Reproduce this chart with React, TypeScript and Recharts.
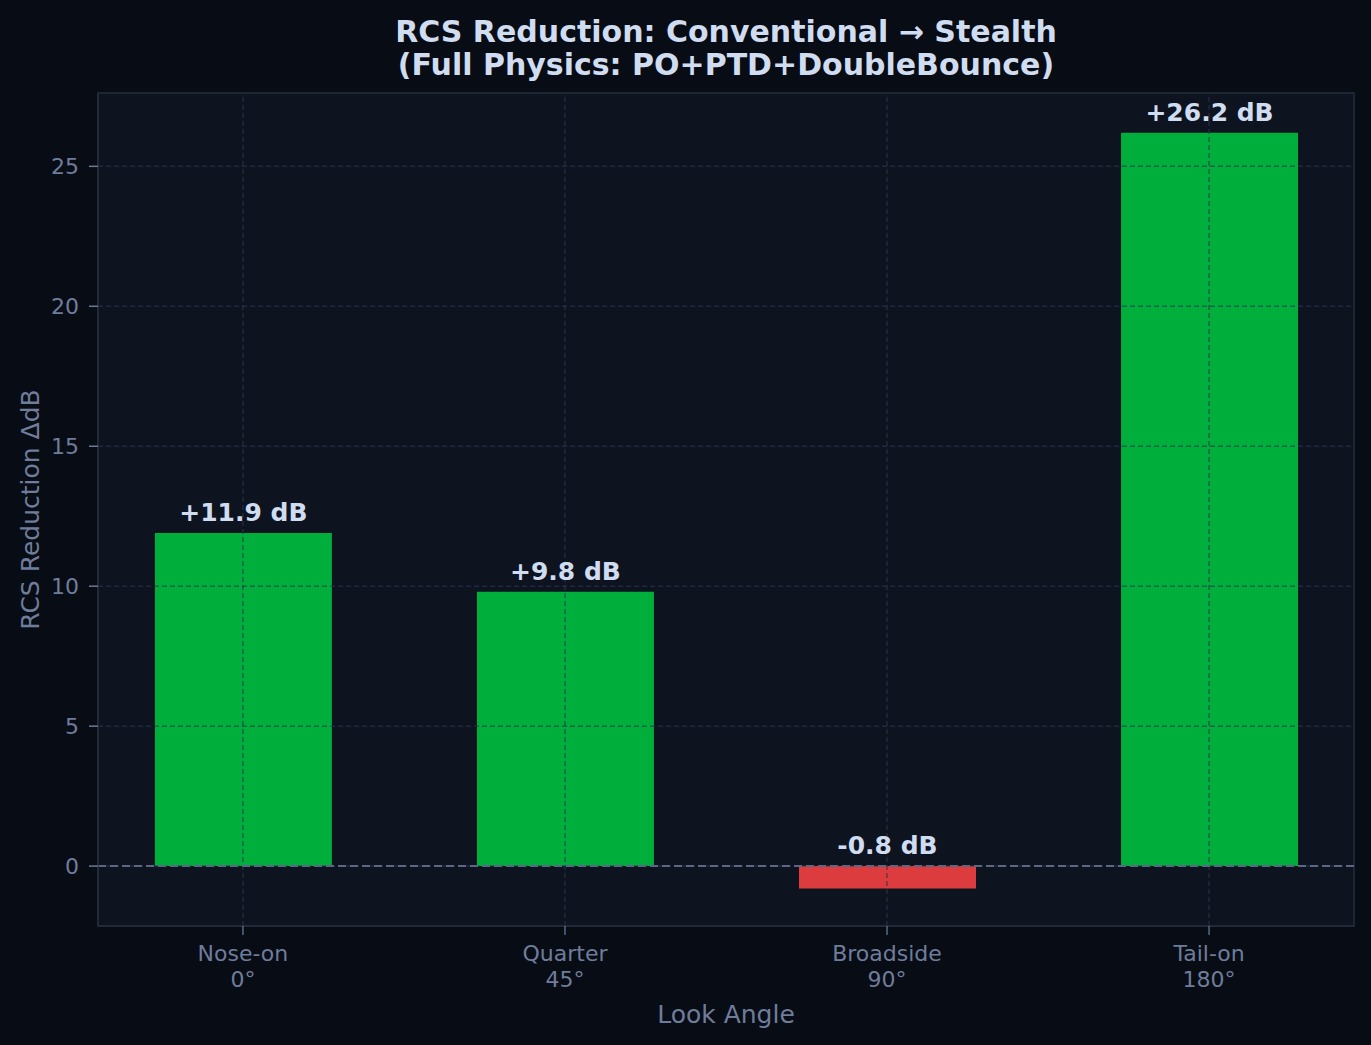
import React from "react";
import {
  BarChart,
  Bar,
  Cell,
  XAxis,
  YAxis,
  CartesianGrid,
  ReferenceLine,
  ReferenceArea,
  LabelList,
} from "recharts";

const categories = ["Nose-on", "Quarter", "Broadside", "Tail-on"];
const angles = ["0°", "45°", "90°", "180°"];
const reduction = [11.9, 9.8, -0.8, 26.2];
const yTicks = [0, 5, 10, 15, 20, 25];
const xTicks = [0, 1, 2, 3];

const X_DOMAIN: [number, number] = [-0.45, 3.45];
const Y_DOMAIN: [number, number] = [-2.14, 27.62];

const FIG_BG = "#080c14";
const AX_BG = "#0e1320";
const SPINE = "#252d3d";
const GRID = "#2b3650";
const TICK = "#6f7d9c";
const TITLE = "#d0dcf0";
const GREEN = "#00ae3c";
const RED = "#dc3c3e";
const FONT = "'DejaVu Sans', sans-serif";

const data = categories.map((name, i) => ({
  idx: i,
  name,
  angle: angles[i],
  value: reduction[i],
}));

const XTick = (props: any) => {
  const { x, y, payload } = props;
  const i = payload.value as number;
  return (
    <text
      x={x}
      y={y}
      textAnchor="middle"
      fill={TICK}
      fontSize={22}
      fontFamily={FONT}
    >
      <tspan x={x} dy={24}>
        {categories[i]}
      </tspan>
      <tspan x={x} dy={25.5}>
        {angles[i]}
      </tspan>
    </text>
  );
};

const BarValue = (props: any) => {
  const { x, y, width, height, value } = props;
  // label sits above the bar top, or above the zero line for negative bars
  const base = Math.min(y, y + height);
  const txt = `${value >= 0 ? "+" : ""}${value.toFixed(1)} dB`;
  return (
    <text
      x={x + width / 2}
      y={base - 12}
      textAnchor="middle"
      fill={TITLE}
      fontSize={25}
      fontWeight="bold"
      fontFamily={FONT}
    >
      {txt}
    </text>
  );
};

export default function App() {
  return (
    <div
      style={{
        position: "absolute",
        left: 0,
        top: 0,
        width: 1371,
        height: 1045,
        background: FIG_BG,
        fontFamily: FONT,
      }}
    >
      <div
        style={{
          position: "absolute",
          left: 0,
          width: 1452,
          top: 15,
          textAlign: "center",
          color: TITLE,
          fontWeight: "bold",
          fontSize: 30,
          lineHeight: "33px",
        }}
      >
        RCS Reduction: Conventional → Stealth
        <br />
        (Full Physics: PO+PTD+DoubleBounce)
      </div>
      <BarChart
        width={1371}
        height={1045}
        data={data}
        margin={{ top: 93, right: 17, bottom: 0, left: 0 }}
        style={{ position: "absolute", left: 0, top: 0 }}
      >
        <CartesianGrid horizontal={false} vertical={false} fill={AX_BG} />
        <XAxis
          dataKey="idx"
          type="number"
          domain={X_DOMAIN}
          ticks={xTicks}
          allowDataOverflow
          height={119}
          tick={<XTick />}
          tickSize={9}
          tickMargin={2}
          axisLine={{ stroke: SPINE, strokeWidth: 1.5 }}
          tickLine={{ stroke: "#5b6987", strokeWidth: 1.5 }}
          label={{
            value: "Look Angle",
            position: "insideBottom",
            offset: 22,
            fill: TICK,
            fontSize: 25,
            fontFamily: FONT,
          }}
        />
        <YAxis
          type="number"
          domain={Y_DOMAIN}
          ticks={yTicks}
          allowDataOverflow
          width={98}
          tickSize={9}
          tickMargin={10}
          tick={{ fill: TICK, fontSize: 22, fontFamily: FONT }}
          axisLine={{ stroke: SPINE, strokeWidth: 1.5 }}
          tickLine={{ stroke: "#6b7a98", strokeWidth: 1.5 }}
          label={(p: any) => {
            const vb = p.viewBox;
            const cx = vb.x + 30;
            const cy = vb.y + vb.height / 2;
            return (
              <text
                x={cx}
                y={cy}
                transform={`rotate(-90, ${cx}, ${cy})`}
                textAnchor="middle"
                dominantBaseline="central"
                fill={TICK}
                fontSize={25}
                fontFamily={FONT}
              >
                RCS Reduction ΔdB
              </text>
            );
          }}
        />
        <Bar dataKey="value" barSize={177} isAnimationActive={false}>
          {data.map((d) => (
            <Cell key={d.name} fill={d.value >= 0 ? GREEN : RED} />
          ))}
          <LabelList dataKey="value" content={<BarValue />} />
        </Bar>
        {yTicks.map((t) => (
          <ReferenceLine
            key={`h${t}`}
            y={t}
            stroke={GRID}
            strokeOpacity={0.65}
            strokeWidth={1.5}
            strokeDasharray="5 3"
          />
        ))}
        {xTicks.map((t) => (
          <ReferenceLine
            key={`v${t}`}
            x={t}
            stroke={GRID}
            strokeOpacity={0.65}
            strokeWidth={1.5}
            strokeDasharray="5 3"
          />
        ))}
        <ReferenceLine
          y={0}
          stroke="#5b6785"
          strokeWidth={2}
          strokeDasharray="8 4"
        />
        <ReferenceArea
          x1={X_DOMAIN[0]}
          x2={X_DOMAIN[1]}
          y1={Y_DOMAIN[0]}
          y2={Y_DOMAIN[1]}
          fill="none"
          stroke={SPINE}
          strokeWidth={1.5}
        />
      </BarChart>
    </div>
  );
}
